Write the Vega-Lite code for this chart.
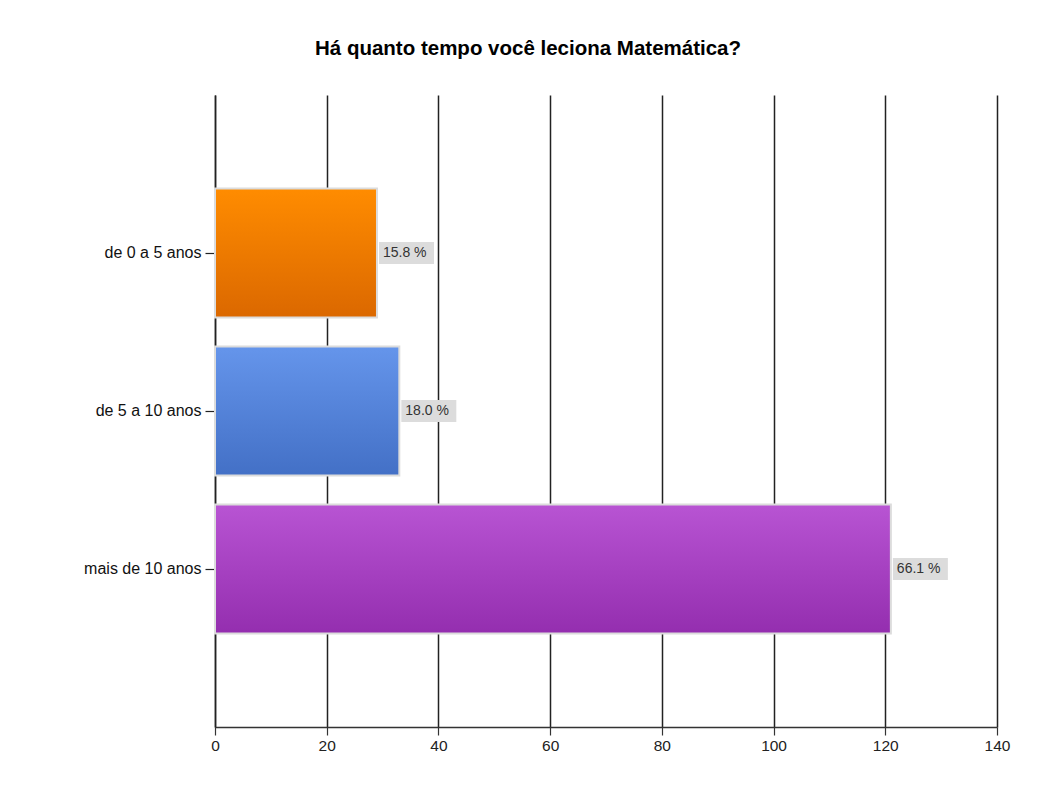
{
  "$schema": "https://vega.github.io/schema/vega-lite/v6.json",
  "width": 782,
  "height": 632,
  "autosize": "none",
  "padding": {"left": 215, "top": 95, "right": 46, "bottom": 63},
  "background": "white",
  "title": {
    "text": "Há quanto tempo você leciona Matemática?",
    "font": "Liberation Sans",
    "fontSize": 20.5,
    "fontWeight": "bold",
    "color": "#000000",
    "anchor": "middle",
    "offset": 36,
    "dx": -78
  },
  "config": {"view": {"stroke": null}},
  "data": {
    "values": [
      {"faixa": "de 0 a 5 anos", "respostas": 29, "rotulo": "15.8 %"},
      {"faixa": "de 5 a 10 anos", "respostas": 33, "rotulo": "18.0 %"},
      {"faixa": "mais de 10 anos", "respostas": 121, "rotulo": "66.1 %"}
    ]
  },
  "encoding": {
    "y": {
      "field": "faixa",
      "type": "nominal",
      "sort": null,
      "scale": {"paddingInner": 0.184, "paddingOuter": 0.592},
      "axis": {
        "title": null,
        "domainColor": "#222222",
        "domainWidth": 1.5,
        "tickColor": "#222222",
        "tickSize": 10,
        "tickWidth": 1.2,
        "labelFont": "Liberation Sans",
        "labelFontSize": 16,
        "labelColor": "#111111",
        "labelPadding": 4
      }
    },
    "x": {
      "field": "respostas",
      "type": "quantitative",
      "scale": {"domain": [0, 140], "nice": false},
      "axis": {
        "title": null,
        "values": [0, 20, 40, 60, 80, 100, 120, 140],
        "labelFlush": false,
        "grid": true,
        "gridColor": "#222222",
        "gridWidth": 1.5,
        "gridOpacity": 1,
        "domainColor": "#333333",
        "domainWidth": 1.5,
        "tickColor": "#333333",
        "tickSize": 8,
        "tickWidth": 1.2,
        "labelFont": "Liberation Sans",
        "labelFontSize": 15.5,
        "labelColor": "#222222",
        "labelPadding": 3
      }
    }
  },
  "layer": [
    {
      "transform": [{"filter": "datum.faixa === 'de 0 a 5 anos'"}],
      "mark": {
        "type": "bar",
        "stroke": "#dcdcdc",
        "strokeWidth": 2,
        "color": {"gradient": "linear", "x1": 0, "y1": 0, "x2": 0, "y2": 1,
          "stops": [{"offset": 0, "color": "#ff8c00"}, {"offset": 1, "color": "#db6800"}]}
      }
    },
    {
      "transform": [{"filter": "datum.faixa === 'de 5 a 10 anos'"}],
      "mark": {
        "type": "bar",
        "stroke": "#dcdcdc",
        "strokeWidth": 2,
        "color": {"gradient": "linear", "x1": 0, "y1": 0, "x2": 0, "y2": 1,
          "stops": [{"offset": 0, "color": "#6595eb"}, {"offset": 1, "color": "#4370c6"}]}
      }
    },
    {
      "transform": [{"filter": "datum.faixa === 'mais de 10 anos'"}],
      "mark": {
        "type": "bar",
        "stroke": "#dcdcdc",
        "strokeWidth": 2,
        "color": {"gradient": "linear", "x1": 0, "y1": 0, "x2": 0, "y2": 1,
          "stops": [{"offset": 0, "color": "#b854d3"}, {"offset": 1, "color": "#942eaf"}]}
      }
    },
    {
      "mark": {"type": "bar", "color": "#dcdcdc", "height": 22, "xOffset": 2, "x2Offset": 57},
      "encoding": {"x2": {"field": "respostas"}}
    },
    {
      "mark": {"type": "text", "align": "left", "baseline": "middle", "dx": 6, "font": "Liberation Sans", "fontSize": 14, "color": "#333333"},
      "encoding": {"text": {"field": "rotulo"}}
    }
  ]
}
